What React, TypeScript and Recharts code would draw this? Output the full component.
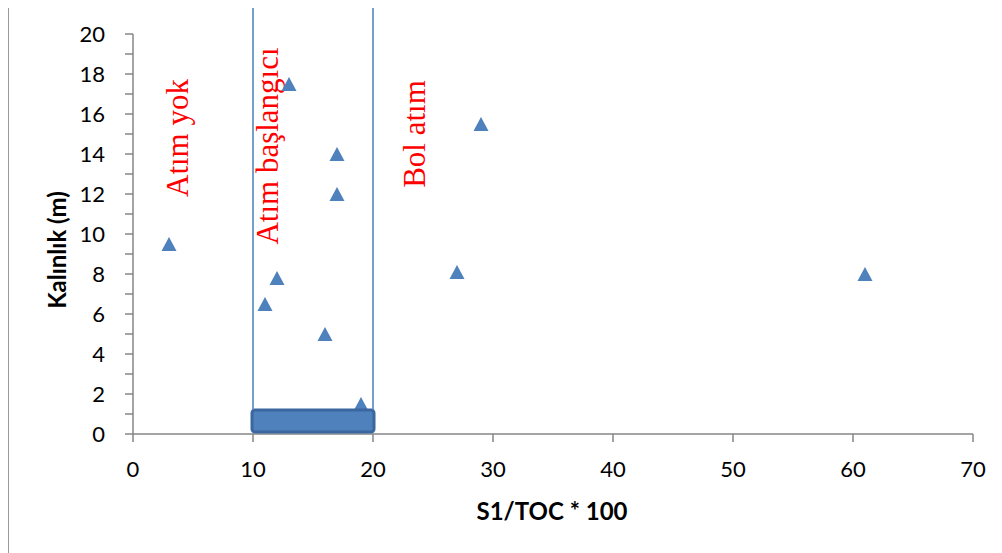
import {
  ScatterChart,
  Scatter,
  XAxis,
  YAxis,
  ReferenceLine,
  ReferenceArea,
  ReferenceDot,
} from "recharts";

// S1/TOC*100 against thickness for each sample
const s1Toc = [3, 11, 12, 13, 16, 17, 17, 19, 27, 29, 61];
const thickness = [9.5, 6.5, 7.8, 17.5, 5, 14, 12, 1.5, 8.1, 15.5, 8];

const xTicks = [0, 10, 20, 30, 40, 50, 60, 70];
const yTicks = [0, 1, 2, 3, 4, 5, 6, 7, 8, 9, 10, 11, 12, 13, 14, 15, 16, 17, 18, 19, 20];

// expulsion zone limits and the bar that marks them on the x axis
const zoneLimits = [10, 20];
const zoneTop = 21.45;
const zoneBar = [0.1, 1.2];

// zone captions (baseline x, centre y in data units)
const zoneNames = ["Atım yok", "Atım başlangıcı", "Bol atım"];
const zoneNameX = [4.6, 12.1, 24.35];
const zoneNameY = [14.8, 14.4, 15.0];

const points = s1Toc.map((x, i) => ({ x, y: thickness[i] }));

const AXIS = "#868686";
const BLUE = "#4F81BD";

const Triangle = (props: any) => {
  const { cx, cy } = props;
  const w = 15;
  const h = 14;
  return (
    <path
      d={`M${cx},${cy - h / 2}L${cx + w / 2},${cy + h / 2}L${cx - w / 2},${cy + h / 2}Z`}
      fill={BLUE}
    />
  );
};

const tickStyle = { fontFamily: "Lato", fontSize: 22, fill: "#000" };

export default function App() {
  return (
    <div style={{ width: 994, height: 548, overflow: "hidden", marginTop: -3 }}>
      <div
        style={{
          width: 1010,
          height: 570,
          border: "1px solid #9a9a9a",
          background: "#fff",
        }}
      >
        <ScatterChart
          width={1000}
          height={560}
          margin={{ top: 28, right: 36, left: 24, bottom: 32 }}
        >
          <XAxis
            type="number"
            dataKey="x"
            domain={[0, 70]}
            ticks={xTicks}
            interval={0}
            height={100}
            tickSize={8}
            tickMargin={19}
            tick={tickStyle}
            axisLine={{ stroke: AXIS, strokeWidth: 1.5 }}
            tickLine={{ stroke: AXIS, strokeWidth: 1.5 }}
            label={{
              content: (p: any) => {
                const vb = p.viewBox || { x: 124, y: 428, width: 840 };
                return (
                  <text
                    x={vb.x + vb.width / 2 - 1}
                    y={vb.y + 76}
                    textAnchor="middle"
                    dominantBaseline="central"
                    fontFamily="Lato"
                    fontWeight="bold"
                    fontSize={24}
                    fill="#000"
                  >
                    S1/TOC * 100
                  </text>
                );
              },
            }}
          />
          <YAxis
            type="number"
            dataKey="y"
            domain={[0, 20]}
            ticks={yTicks}
            interval={0}
            width={100}
            tickSize={8}
            tickMargin={20}
            tick={tickStyle}
            tickFormatter={(v: number) => (v % 2 === 0 ? String(v) : "")}
            axisLine={{ stroke: AXIS, strokeWidth: 1.5 }}
            tickLine={{ stroke: AXIS, strokeWidth: 1.5 }}
            label={{
              content: (p: any) => {
                const vb = p.viewBox || { x: 24, y: 28, width: 100, height: 400 };
                const cx = vb.x + vb.width - 77;
                const cy = vb.y + vb.height / 2 + 16;
                return (
                  <text
                    x={cx}
                    y={cy}
                    transform={`rotate(-90 ${cx} ${cy})`}
                    textAnchor="middle"
                    dominantBaseline="central"
                    fontFamily="Lato"
                    fontWeight="bold"
                    fontSize={24}
                    fill="#000"
                  >
                    Kalınlık (m)
                  </text>
                );
              },
            }}
          />
          {zoneNames.map((name, i) => (
            <ReferenceDot
              key={name}
              x={zoneNameX[i]}
              y={zoneNameY[i]}
              r={0}
              ifOverflow="visible"
              zIndex={100}
              shape={(p: any) => (
                <text
                  x={p.cx}
                  y={p.cy}
                  transform={`rotate(-90 ${p.cx} ${p.cy})`}
                  textAnchor="middle"
                  fontFamily="Liberation Serif"
                  fontSize={31}
                  fill="#FF0000"
                >
                  {name}
                </text>
              )}
            />
          ))}
          <Scatter
            data={points}
            shape={<Triangle />}
            isAnimationActive={false}
          />
          <ReferenceArea
            x1={zoneLimits[0]}
            x2={zoneLimits[1]}
            y1={zoneBar[0]}
            y2={zoneBar[1]}
            ifOverflow="visible"
            zIndex={700}
            shape={(p: any) => (
              <rect
                x={p.x - 1}
                y={p.y}
                width={p.width + 2}
                height={p.height}
                rx={3}
                fill={BLUE}
                stroke="#3A679F"
                strokeWidth={3}
              />
            )}
          />
          {zoneLimits.map((lim) => (
            <ReferenceLine
              key={lim}
              segment={[
                { x: lim, y: zoneBar[1] },
                { x: lim, y: zoneTop },
              ]}
              ifOverflow="visible"
              zIndex={800}
              stroke="#4A7EBB"
              strokeWidth={1.5}
            />
          ))}
        </ScatterChart>
      </div>
    </div>
  );
}
